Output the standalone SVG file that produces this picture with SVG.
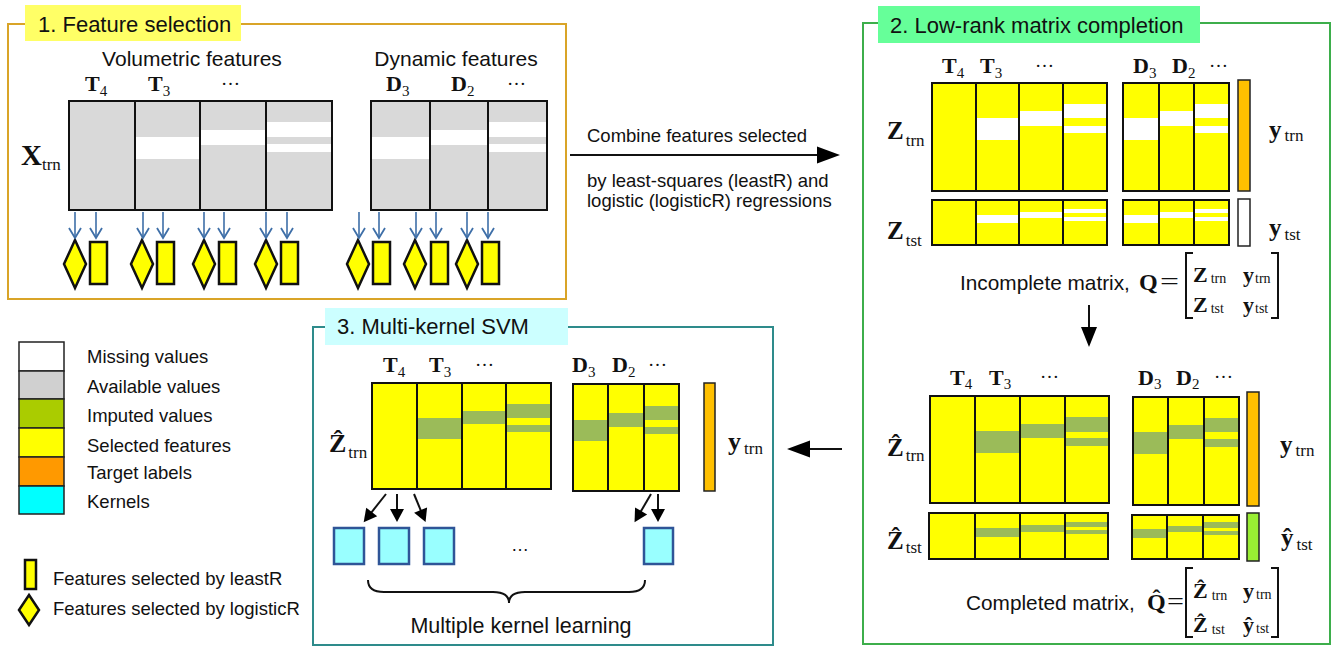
<svg xmlns="http://www.w3.org/2000/svg" width="1336" height="647" viewBox="0 0 1336 647">
<style>
.sans{font-family:"Liberation Sans",Arial,sans-serif;fill:#111}
.m{font-family:"Liberation Serif","DejaVu Serif",serif;font-weight:bold;fill:#111}
.sb{font-weight:normal}
.dots{font-family:"Liberation Serif",serif;font-size:19px;fill:#111}
.out{fill:none;stroke:#111;stroke-width:2}
.dv{stroke:#111;stroke-width:2}
.gray{fill:#D9D9D9}
.yel{fill:#FFFF00}
.miss{fill:#FFFFFF}
.imp{fill:#9BBB59}
.bar{stroke:#222;stroke-width:1.5}
.dia{fill:#FFFF00;stroke:#111;stroke-width:2.5;stroke-linejoin:miter}
.kern{fill:#99FFFF;stroke:#2F5597;stroke-width:2.5}
.blue{stroke:#3E6FA8;stroke-width:1.6;fill:none}
.blk{stroke:#111;stroke-width:2;fill:none}
.leg{stroke:#222;stroke-width:1.5}
</style>
<defs>
<marker id="vopen" markerUnits="userSpaceOnUse" orient="auto" refX="0" refY="0" markerWidth="12" markerHeight="14" overflow="visible">
<path d="M-10,-6 L0,0 L-10,6" fill="none" stroke="#3E6FA8" stroke-width="1.8"/>
</marker>
<marker id="bigA" markerUnits="userSpaceOnUse" orient="auto" refX="1" refY="0" markerWidth="24" markerHeight="18" overflow="visible">
<path d="M0,-8.5 L23,0 L0,8.5 Z" fill="#000"/>
</marker>
<marker id="medA" markerUnits="userSpaceOnUse" orient="auto" refX="1" refY="0" markerWidth="24" markerHeight="18" overflow="visible">
<path d="M0,-8 L20,0 L0,8 Z" fill="#000"/>
</marker>
<marker id="smA" markerUnits="userSpaceOnUse" orient="auto" refX="1" refY="0" markerWidth="14" markerHeight="14" overflow="visible">
<path d="M0,-7 L13,0 L0,7 Z" fill="#000"/>
</marker>
</defs>
<rect width="1336" height="647" fill="#FFFFFF"/>

<!-- Panel 1 -->
<g id="panel1">
<rect x="8" y="24" width="558" height="275" fill="none" stroke="#D9A428" stroke-width="2"/>
<rect x="25" y="5" width="216" height="36" fill="#FFFF66"/>
<text class="sans" x="38" y="32" font-size="22">1. Feature selection</text>
<text class="sans" x="192" y="66" font-size="21" text-anchor="middle">Volumetric features</text>
<text class="sans" x="456" y="66" font-size="21" text-anchor="middle">Dynamic features</text>
<text class="m" x="85" y="91" font-size="22">T<tspan class="sb" font-size="15" dy="5">4</tspan></text>
<text class="m" x="148" y="91" font-size="22">T<tspan class="sb" font-size="15" dy="5">3</tspan></text>
<text class="dots" x="221" y="85">…</text>
<text class="m" x="386" y="91" font-size="22">D<tspan class="sb" font-size="15" dy="5">3</tspan></text>
<text class="m" x="451" y="91" font-size="22">D<tspan class="sb" font-size="15" dy="5">2</tspan></text>
<text class="dots" x="507" y="85">…</text>
<text class="m" x="21" y="165" font-size="29">X<tspan class="sb" font-size="17" dy="5">trn</tspan></text>
<g id="p1-vol">
<rect class="gray" x="69" y="101" width="263" height="109"/>
<rect class="miss" x="135" y="137" width="65" height="22"/>
<rect class="miss" x="200" y="130" width="66" height="15"/>
<rect class="miss" x="266" y="122" width="66" height="15"/>
<rect class="miss" x="266" y="144" width="66" height="8"/>
<rect class="out" x="69" y="101" width="263" height="109"/>
<path class="dv" d="M135,101V210M200,101V210M266,101V210"/>
</g>
<g id="p1-dyn">
<rect class="gray" x="371" y="101" width="176" height="109"/>
<rect class="miss" x="371" y="137" width="59" height="22"/>
<rect class="miss" x="430" y="130" width="58" height="15"/>
<rect class="miss" x="488" y="122" width="59" height="15"/>
<rect class="miss" x="488" y="144" width="59" height="8"/>
<rect class="out" x="371" y="101" width="176" height="109"/>
<path class="dv" d="M430,101V210M488,101V210"/>
</g>
<g id="p1-selectors">
<polygon class="dia" points="75,240 86,264 75,288 64,264"/>
<rect class="dia" x="90" y="242" width="17" height="42"/>
<polygon class="dia" points="142,240 153,264 142,288 131,264"/>
<rect class="dia" x="157" y="242" width="17" height="42"/>
<polygon class="dia" points="204,240 215,264 204,288 193,264"/>
<rect class="dia" x="219" y="242" width="17" height="42"/>
<polygon class="dia" points="266,240 277,264 266,288 255,264"/>
<rect class="dia" x="281" y="242" width="17" height="42"/>
<polygon class="dia" points="358,240 369,264 358,288 347,264"/>
<rect class="dia" x="373" y="242" width="17" height="42"/>
<polygon class="dia" points="415,240 426,264 415,288 404,264"/>
<rect class="dia" x="431" y="242" width="17" height="42"/>
<polygon class="dia" points="467,240 478,264 467,288 456,264"/>
<rect class="dia" x="482" y="242" width="17" height="42"/>
</g>
</g>

<!-- Panel 2 -->
<g id="panel2">
<rect x="863" y="23" width="467" height="621" fill="none" stroke="#3DAE4B" stroke-width="2"/>
<rect x="878" y="6" width="322" height="37" fill="#66FF99"/>
<text class="sans" x="890" y="33" font-size="22">2. Low-rank matrix completion</text>
<text class="m" x="942" y="73" font-size="22">T<tspan class="sb" font-size="15" dy="5">4</tspan></text>
<text class="m" x="980" y="73" font-size="22">T<tspan class="sb" font-size="15" dy="5">3</tspan></text>
<text class="dots" x="1035" y="67">…</text>
<text class="m" x="1133" y="73" font-size="22">D<tspan class="sb" font-size="15" dy="5">3</tspan></text>
<text class="m" x="1172" y="73" font-size="22">D<tspan class="sb" font-size="15" dy="5">2</tspan></text>
<text class="dots" x="1209" y="67">…</text>
<text class="m" x="887" y="139" font-size="25">Z<tspan class="sb" font-size="17" dx="2" dy="7">trn</tspan></text>
<text class="m" x="1269" y="138" font-size="25">y<tspan class="sb" font-size="17" dx="3" dy="3">trn</tspan></text>
<text class="m" x="887" y="239" font-size="25">Z<tspan class="sb" font-size="17" dx="2" dy="7">tst</tspan></text>
<text class="m" x="1269" y="236" font-size="25">y<tspan class="sb" font-size="17" dx="3" dy="4">tst</tspan></text>
<g id="p2-ztrn">
<rect class="yel" x="932" y="83" width="175" height="108"/>
<rect class="miss" x="976" y="118" width="43" height="22"/>
<rect class="miss" x="1019" y="111" width="44" height="15"/>
<rect class="miss" x="1063" y="104" width="44" height="14"/>
<rect class="miss" x="1063" y="126" width="44" height="7"/>
<rect class="out" x="932" y="83" width="175" height="108"/>
<path class="dv" d="M976,83V191M1019,83V191M1063,83V191"/>
<rect class="yel" x="1123" y="83" width="106" height="108"/>
<rect class="miss" x="1123" y="118" width="36" height="22"/>
<rect class="miss" x="1159" y="111" width="35" height="15"/>
<rect class="miss" x="1194" y="104" width="35" height="14"/>
<rect class="miss" x="1194" y="126" width="35" height="7"/>
<rect class="out" x="1123" y="83" width="106" height="108"/>
<path class="dv" d="M1159,83V191M1194,83V191"/>
<rect class="bar" x="1238" y="80" width="12" height="111" fill="#FFC000"/>
</g>
<g id="p2-ztst">
<rect class="yel" x="932" y="200" width="175" height="45"/>
<rect class="miss" x="976" y="215" width="43" height="8"/>
<rect class="miss" x="1019" y="212" width="44" height="6"/>
<rect class="miss" x="1063" y="209" width="44" height="4"/>
<rect class="miss" x="1063" y="217" width="44" height="4"/>
<rect class="out" x="932" y="200" width="175" height="45"/>
<path class="dv" d="M976,200V245M1019,200V245M1063,200V245"/>
<rect class="yel" x="1123" y="200" width="106" height="45"/>
<rect class="miss" x="1123" y="215" width="36" height="8"/>
<rect class="miss" x="1159" y="212" width="35" height="6"/>
<rect class="miss" x="1194" y="209" width="35" height="4"/>
<rect class="miss" x="1194" y="217" width="35" height="4"/>
<rect class="out" x="1123" y="200" width="106" height="45"/>
<path class="dv" d="M1159,200V245M1194,200V245"/>
<rect class="bar" x="1238" y="199" width="12" height="47" fill="#FFFFFF"/>
</g>
<g id="p2-eqQ">
<text class="sans" x="960" y="290" font-size="20.8">Incomplete matrix,</text>
<text class="m" x="1139" y="290" font-size="24">Q</text>
<text class="m sb" x="1160" y="289" font-size="24" textLength="19" lengthAdjust="spacingAndGlyphs">=</text>
<path class="blk" stroke-width="2.2" d="M1193,253H1186V318H1193M1271,253H1278V318H1271"/>
<text class="m" x="1193" y="282" font-size="22">Z<tspan class="sb" font-size="14" dx="3" dy="1">trn</tspan></text>
<text class="m" x="1243" y="282" font-size="22">y<tspan class="sb" font-size="14" dx="1" dy="1">trn</tspan></text>
<text class="m" x="1193" y="312" font-size="22">Z<tspan class="sb" font-size="14" dx="3" dy="1">tst</tspan></text>
<text class="m" x="1243" y="312" font-size="22">y<tspan class="sb" font-size="14" dx="1" dy="1">tst</tspan></text>
</g>
<text class="m" x="950" y="385" font-size="22">T<tspan class="sb" font-size="15" dy="4">4</tspan></text>
<text class="m" x="989" y="385" font-size="22">T<tspan class="sb" font-size="15" dy="4">3</tspan></text>
<text class="dots" x="1040" y="378">…</text>
<text class="m" x="1138" y="385" font-size="22">D<tspan class="sb" font-size="15" dy="4">3</tspan></text>
<text class="m" x="1176" y="385" font-size="22">D<tspan class="sb" font-size="15" dy="4">2</tspan></text>
<text class="dots" x="1214" y="378">…</text>
<text class="m" x="887" y="456" font-size="25">Ẑ<tspan class="sb" font-size="17" dx="2" dy="5">trn</tspan></text>
<text class="m" x="1280" y="453" font-size="25">y<tspan class="sb" font-size="17" dx="3" dy="3">trn</tspan></text>
<text class="m" x="887" y="549" font-size="25">Ẑ<tspan class="sb" font-size="17" dx="2" dy="4">tst</tspan></text>
<text class="m" x="1281" y="546" font-size="25">ŷ<tspan class="sb" font-size="17" dx="3" dy="4">tst</tspan></text>
<g id="p2-zhtrn">
<rect class="yel" x="930" y="396" width="179" height="107"/>
<rect class="imp" x="975" y="431" width="45" height="22"/>
<rect class="imp" x="1020" y="424" width="45" height="14"/>
<rect class="imp" x="1065" y="417" width="44" height="15"/>
<rect class="imp" x="1065" y="438" width="44" height="8"/>
<rect class="out" x="930" y="396" width="179" height="107"/>
<path class="dv" d="M975,396V503M1020,396V503M1065,396V503"/>
<rect class="yel" x="1133" y="397" width="106" height="108"/>
<rect class="imp" x="1133" y="432" width="35" height="22"/>
<rect class="imp" x="1168" y="425" width="36" height="14"/>
<rect class="imp" x="1204" y="418" width="35" height="14"/>
<rect class="imp" x="1204" y="439" width="35" height="8"/>
<rect class="out" x="1133" y="397" width="106" height="108"/>
<path class="dv" d="M1168,397V505M1204,397V505"/>
<rect class="bar" x="1247" y="392" width="12" height="114" fill="#FFC000"/>
</g>
<g id="p2-zhtst">
<rect class="yel" x="929" y="513" width="179" height="46"/>
<rect class="imp" x="975" y="528" width="45" height="9"/>
<rect class="imp" x="1020" y="525" width="45" height="7"/>
<rect class="imp" x="1065" y="522" width="43" height="5"/>
<rect class="imp" x="1065" y="530" width="43" height="4"/>
<rect class="out" x="929" y="513" width="179" height="46"/>
<path class="dv" d="M975,513V559M1020,513V559M1065,513V559"/>
<rect class="yel" x="1132" y="515" width="107" height="44"/>
<rect class="imp" x="1132" y="529" width="35" height="9"/>
<rect class="imp" x="1167" y="526" width="36" height="6"/>
<rect class="imp" x="1203" y="522" width="36" height="6"/>
<rect class="imp" x="1203" y="531" width="36" height="4"/>
<rect class="out" x="1132" y="515" width="107" height="44"/>
<path class="dv" d="M1167,515V559M1203,515V559"/>
<rect class="bar" x="1247" y="513" width="12" height="48" fill="#99EE33"/>
</g>
<g id="p2-eqQhat">
<text class="sans" x="966" y="610" font-size="20.8">Completed matrix,</text>
<text class="m" x="1147" y="610" font-size="24">Q̂</text>
<text class="m sb" x="1167" y="609" font-size="24" textLength="17" lengthAdjust="spacingAndGlyphs">=</text>
<path class="blk" stroke-width="2.2" d="M1193,568H1186V637H1193M1271,568H1278V637H1271"/>
<text class="m" x="1193" y="598" font-size="22">Ẑ<tspan class="sb" font-size="14" dx="4" dy="2">trn</tspan></text>
<text class="m" x="1243" y="598" font-size="22">y<tspan class="sb" font-size="14" dx="2" dy="1">trn</tspan></text>
<text class="m" x="1193" y="632" font-size="22">Ẑ<tspan class="sb" font-size="14" dx="4" dy="2">tst</tspan></text>
<text class="m" x="1243" y="632" font-size="22">ŷ<tspan class="sb" font-size="14" dx="2" dy="1">tst</tspan></text>
</g>
</g>

<!-- Legend -->
<g id="legend">
<rect class="leg" x="19" y="342" width="45" height="29" fill="#FFFFFF"/>
<rect class="leg" x="19" y="371" width="45" height="28" fill="#D0D0D0"/>
<rect class="leg" x="19" y="399" width="45" height="29" fill="#AACC00"/>
<rect class="leg" x="19" y="428" width="45" height="29" fill="#FFFF00"/>
<rect class="leg" x="19" y="457" width="45" height="29" fill="#FF9900"/>
<rect class="leg" x="19" y="486" width="45" height="28" fill="#00FFFF"/>
<text class="sans" x="87" y="363" font-size="18.5">Missing values</text>
<text class="sans" x="87" y="393" font-size="18.5">Available values</text>
<text class="sans" x="87" y="422" font-size="18.5">Imputed values</text>
<text class="sans" x="87" y="452" font-size="18.5">Selected features</text>
<text class="sans" x="87" y="479" font-size="18.5">Target labels</text>
<text class="sans" x="87" y="508" font-size="18.5">Kernels</text>
<rect class="dia" x="25" y="560" width="11" height="29"/>
<polygon class="dia" points="29,595 39,610 29,625 19,610"/>
<text class="sans" x="53" y="585" font-size="18.5">Features selected by leastR</text>
<text class="sans" x="53" y="615" font-size="18.5">Features selected by logisticR</text>
</g>

<!-- Panel 3 -->
<g id="panel3">
<rect x="313" y="327" width="460" height="318" fill="none" stroke="#2E8B8B" stroke-width="2"/>
<rect x="325" y="308" width="243" height="37" fill="#CCFFFF"/>
<text class="sans" x="337" y="334" font-size="22">3. Multi-kernel SVM</text>
<text class="m" x="383" y="372" font-size="22">T<tspan class="sb" font-size="15" dy="5">4</tspan></text>
<text class="m" x="429" y="372" font-size="22">T<tspan class="sb" font-size="15" dy="5">3</tspan></text>
<text class="dots" x="475" y="366">…</text>
<text class="m" x="572" y="372" font-size="22">D<tspan class="sb" font-size="15" dy="5">3</tspan></text>
<text class="m" x="612" y="372" font-size="22">D<tspan class="sb" font-size="15" dy="5">2</tspan></text>
<text class="dots" x="648" y="366">…</text>
<text class="m" x="329" y="452" font-size="26">Ẑ<tspan class="sb" font-size="17" dx="2" dy="6">trn</tspan></text>
<text class="m" x="728" y="450" font-size="26">y<tspan class="sb" font-size="17" dx="3" dy="4">trn</tspan></text>
<g id="p3-zhtrn">
<rect class="yel" x="372" y="383" width="179" height="106"/>
<rect class="imp" x="417" y="418" width="45" height="21"/>
<rect class="imp" x="462" y="411" width="44" height="13"/>
<rect class="imp" x="506" y="404" width="45" height="14"/>
<rect class="imp" x="506" y="425" width="45" height="7"/>
<rect class="out" x="372" y="383" width="179" height="106"/>
<path class="dv" d="M417,383V489M462,383V489M506,383V489"/>
<rect class="yel" x="573" y="384" width="106" height="107"/>
<rect class="imp" x="573" y="420" width="35" height="21"/>
<rect class="imp" x="608" y="413" width="36" height="14"/>
<rect class="imp" x="644" y="406" width="35" height="14"/>
<rect class="imp" x="644" y="427" width="35" height="7"/>
<rect class="out" x="573" y="384" width="106" height="107"/>
<path class="dv" d="M608,384V491M644,384V491"/>
<rect class="bar" x="704" y="383" width="11" height="108" fill="#FFC000"/>
</g>
<g id="p3-kernels">
<rect class="kern" x="334" y="528" width="30" height="36"/>
<rect class="kern" x="379" y="528" width="30" height="36"/>
<rect class="kern" x="424" y="528" width="30" height="36"/>
<rect class="kern" x="644" y="528" width="29" height="36"/>
<text class="sans" x="511" y="551" font-size="18">…</text>
</g>
<path class="blk" stroke-width="1.6" d="M368,580 Q368,592 384,592 L493,592 Q509,592 509,603 Q509,592 525,592 L629,592 Q645,592 645,580"/>
<text class="sans" x="521" y="633" font-size="21.5" text-anchor="middle">Multiple kernel learning</text>
</g>

<!-- Connectors -->
<g id="connectors">
<g id="blue-arrows" class="blue" marker-end="url(#vopen)">
<line x1="75" y1="212" x2="75" y2="238"/>
<line x1="96" y1="212" x2="96" y2="238"/>
<line x1="143" y1="212" x2="143" y2="238"/>
<line x1="163" y1="212" x2="163" y2="238"/>
<line x1="204" y1="212" x2="204" y2="238"/>
<line x1="224" y1="212" x2="224" y2="238"/>
<line x1="266" y1="212" x2="266" y2="238"/>
<line x1="287" y1="212" x2="287" y2="238"/>
<line x1="359" y1="212" x2="359" y2="238"/>
<line x1="379" y1="212" x2="379" y2="238"/>
<line x1="416" y1="212" x2="416" y2="238"/>
<line x1="436" y1="212" x2="436" y2="238"/>
<line x1="467" y1="212" x2="467" y2="238"/>
<line x1="488" y1="212" x2="488" y2="238"/>
</g>
<line class="blk" x1="570" y1="155" x2="818" y2="155" marker-end="url(#bigA)"/>
<text class="sans" x="587" y="142" font-size="18.5">Combine features selected</text>
<text class="sans" x="587" y="187" font-size="18.5">by least-squares (leastR) and</text>
<text class="sans" x="587" y="207" font-size="18.5">logistic (logisticR) regressions</text>
<line class="blk" x1="1089" y1="305" x2="1089" y2="328" marker-end="url(#medA)"/>
<line class="blk" x1="842" y1="449" x2="809" y2="449" marker-end="url(#bigA)"/>
<g id="kernel-arrows" class="blk" marker-end="url(#smA)">
<line x1="386" y1="494" x2="371.1" y2="512.8"/>
<line x1="397" y1="494" x2="397" y2="510"/>
<line x1="414" y1="494" x2="421" y2="511"/>
<line x1="651" y1="494" x2="640.6" y2="511.8"/>
<line x1="658" y1="494" x2="658" y2="510"/>
</g>
</g>
</svg>
